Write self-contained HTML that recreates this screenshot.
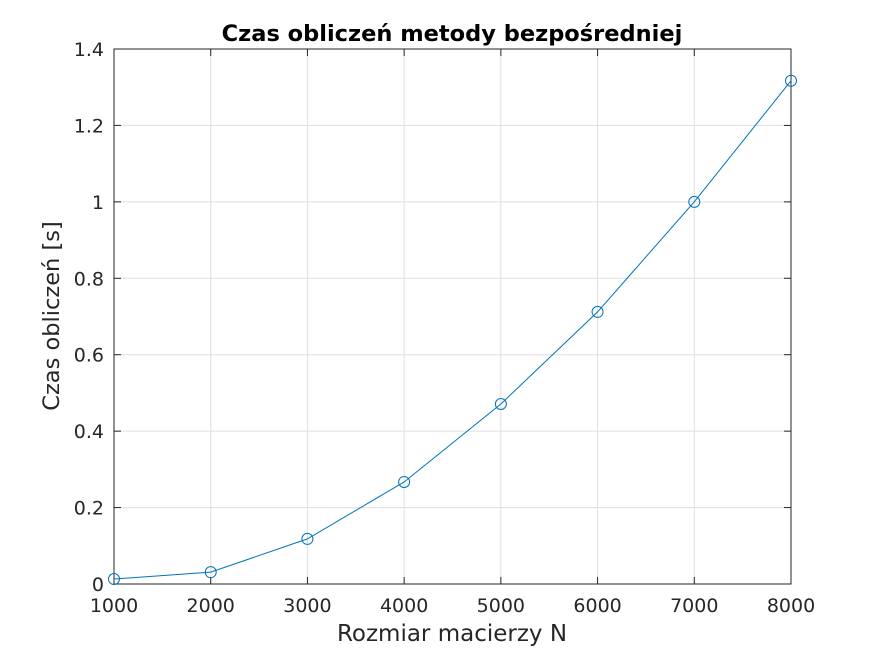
<!DOCTYPE html>
<html><head><meta charset="utf-8"><style>
html,body{margin:0;padding:0;background:#fff;width:874px;height:656px;overflow:hidden}
svg text{font-family:"DejaVu Sans","Liberation Sans",sans-serif;fill:#262626}
</style></head><body>
<svg id="chart" width="874" height="656" xmlns="http://www.w3.org/2000/svg">
<rect width="874" height="656" fill="#fff"/>
<g id="grid"></g>
<g id="ticks"></g>
<rect x="114" y="49" width="677" height="535" fill="none" stroke="#262626" stroke-width="1"/>
<g id="series"></g>
<text x="452" y="41" text-anchor="middle" font-size="22.5" font-weight="bold" style="fill:#000">Czas obliczeń metody bezpośredniej</text>
<text x="452" y="641" text-anchor="middle" font-size="23">Rozmiar macierzy N</text>
<text x="0" y="0" text-anchor="middle" font-size="22.5" transform="translate(59,316) rotate(-90)">Czas obliczeń [s]</text>
</svg>
<script>
const xValues=[1000,2000,3000,4000,5000,6000,7000,8000];
const yValues=[0.013,0.031,0.118,0.267,0.471,0.712,1.0,1.317];
const xTicks=[1000,2000,3000,4000,5000,6000,7000,8000];
const yTicks=[0,0.2,0.4,0.6,0.8,1,1.2,1.4];
const yTickLabels=["0","0.2","0.4","0.6","0.8","1","1.2","1.4"];
const L=114,R=791,T=49,B=584;
const sx=v=>L+(v-1000)/(8000-1000)*(R-L);
const sy=v=>B-(v-0)/(1.4)*(B-T);
const NS="http://www.w3.org/2000/svg";
function mk(tag,attrs,parent){const e=document.createElementNS(NS,tag);for(const k in attrs)e.setAttribute(k,attrs[k]);parent.appendChild(e);return e;}
const grid=document.getElementById('grid'),ticks=document.getElementById('ticks'),series=document.getElementById('series');
xTicks.forEach(v=>{const x=sx(v);
 const g=mk('line',{x1:x,x2:x,y1:T,y2:B,stroke:'#dfdfdf','stroke-width':1},grid);
 
 
 const t=mk('line',{x1:x,x2:x,y1:B,y2:B-7,stroke:'#262626'},ticks);
 
 
 const t2=mk('line',{x1:x,x2:x,y1:T,y2:T+7,stroke:'#262626'},ticks);
 
 
 const lb=mk('text',{x:x,y:612,'text-anchor':'middle','font-size':19},ticks);lb.textContent=String(v);
 
 
});
yTicks.forEach((v,i)=>{const y=sy(v);
 const g=mk('line',{x1:L,x2:R,y1:y,y2:y,stroke:'#dfdfdf','stroke-width':1},grid);
 
 
 const t=mk('line',{x1:L,x2:L+7,y1:y,y2:y,stroke:'#262626'},ticks);
 
 
 const t2=mk('line',{x1:R,x2:R-7,y1:y,y2:y,stroke:'#262626'},ticks);
 
 
 const lb=mk('text',{x:104,y:y+7,'text-anchor':'end','font-size':19},ticks);lb.textContent=yTickLabels[i];
 
 
});
const pts=xValues.map((x,i)=>sx(x)+','+sy(yValues[i])).join(' ');
const pl=mk('polyline',{points:pts,fill:'none',stroke:'#0072bd','stroke-width':1},series);


xValues.forEach((x,i)=>{const c=mk('circle',{cx:sx(x),cy:sy(yValues[i]),r:5.5,fill:'none',stroke:'#0072bd','stroke-width':1},series);
 
 
});
</script>
</body></html>
